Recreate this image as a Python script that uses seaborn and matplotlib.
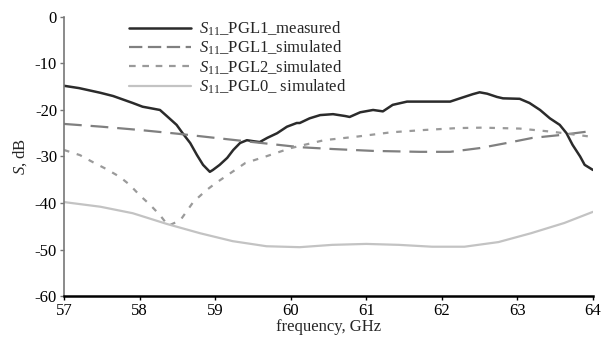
import numpy as np
import pandas as pd
import matplotlib
matplotlib.use('Agg')
import matplotlib.pyplot as plt
import seaborn as sns

# measured S11 (PGL1)
f_meas = [57.0, 57.2, 57.48, 57.65, 57.91, 58.04, 58.14, 58.27, 58.36, 58.49, 58.57, 58.67,
          58.76, 58.84, 58.93, 58.97, 59.06, 59.16, 59.24, 59.33, 59.42, 59.50, 59.59, 59.69,
          59.82, 59.95, 60.08, 60.12, 60.25, 60.39, 60.56, 60.72, 60.78, 60.92, 61.09, 61.22,
          61.35, 61.54, 61.71, 62.11, 62.24, 62.41, 62.50, 62.60, 62.73, 62.81, 63.03, 63.16,
          63.30, 63.43, 63.56, 63.65, 63.73, 63.83, 63.89, 64.0]
s_meas = [-14.8, -15.3, -16.3, -17.0, -18.5, -19.3, -19.6, -20.0, -21.3, -23.2, -25.0, -27.1,
          -29.7, -31.8, -33.3, -32.9, -31.8, -30.3, -28.6, -27.1, -26.5, -26.7, -26.9, -26.0,
          -25.0, -23.6, -22.8, -22.8, -21.8, -21.1, -20.9, -21.3, -21.5, -20.5, -20.0, -20.3,
          -18.9, -18.2, -18.2, -18.2, -17.5, -16.6, -16.2, -16.5, -17.2, -17.5, -17.6, -18.5,
          -20.0, -21.8, -23.2, -25.0, -27.5, -30.0, -31.8, -32.9]

# simulated PGL1
f_pgl1 = [57.0, 57.5, 58.0, 58.5, 59.0, 59.5, 60.12, 60.56, 61.09, 61.71, 62.11, 62.5, 62.86,
          63.2, 63.56, 64.0]
s_pgl1 = [-23.0, -23.6, -24.3, -25.1, -26.0, -26.9, -28.0, -28.4, -28.8, -29.0, -29.0, -28.2,
          -27.1, -26.0, -25.4, -24.5]

# simulated PGL2
f_pgl2 = [57.0, 57.21, 57.38, 57.56, 57.74, 57.87, 58.0, 58.14, 58.27, 58.38, 58.54, 58.71,
          58.88, 59.01, 59.21, 59.40, 59.67, 60.0, 60.44, 60.89, 61.33, 61.77, 62.2, 62.53,
          63.03, 63.47, 64.0]
s_pgl2 = [-28.6, -29.7, -31.2, -32.7, -34.4, -36.1, -38.3, -40.4, -42.6, -44.9, -43.7, -39.8,
          -37.3, -35.7, -33.5, -31.4, -30.0, -28.2, -26.5, -25.7, -24.8, -24.3, -23.9, -23.8,
          -24.0, -24.7, -25.8]

# simulated PGL0
f_pgl0 = [57.0, 57.48, 57.91, 58.36, 58.80, 59.23, 59.68, 60.12, 60.55, 61.0, 61.43, 61.87,
          62.3, 62.75, 63.18, 63.62, 64.0]
s_pgl0 = [-39.8, -40.8, -42.2, -44.5, -46.5, -48.2, -49.3, -49.5, -49.0, -48.8, -49.0, -49.4,
          -49.4, -48.4, -46.5, -44.3, -41.9]

labels = [r'$S$$_{11}$_PGL1_measured', r'$S$$_{11}$_PGL1_simulated',
          r'$S$$_{11}$_PGL2_simulated', r'$S$$_{11}$_PGL0_ simulated']

sns.set_style('ticks')
plt.rcParams['font.family'] = ['Liberation Serif', 'DejaVu Serif']
plt.rcParams['mathtext.fontset'] = 'custom'
plt.rcParams['mathtext.rm'] = 'Liberation Serif'
plt.rcParams['mathtext.it'] = 'Liberation Serif:italic'
plt.rcParams['axes.unicode_minus'] = False

fig = plt.figure(figsize=(6.02, 3.39), dpi=100)
ax = fig.add_axes([0.1063, 0.1268, 0.8787, 0.8232])

sns.lineplot(x=f_meas, y=s_meas, ax=ax, color='#2b2b2b', linewidth=1.8, label=labels[0])
sns.lineplot(x=f_pgl1, y=s_pgl1, ax=ax, color='#808080', linewidth=1.6, label=labels[1])
sns.lineplot(x=f_pgl2, y=s_pgl2, ax=ax, color='#9a9a9a', linewidth=1.6, label=labels[2])
sns.lineplot(x=f_pgl0, y=s_pgl0, ax=ax, color='#c3c3c3', linewidth=1.6, label=labels[3])
ax.lines[1].set_dashes((8, 4))
ax.lines[2].set_dashes((2.5, 3.5))

ax.set_xlim(57, 64)
ax.set_ylim(-60, 0)
ax.set_xticks(range(57, 65))
ax.set_yticks(range(-60, 1, 10))
ax.tick_params(labelsize=12, length=3, width=1, colors='black', pad=2)
ax.tick_params(axis='y', color='#777777')
for s in ['top', 'right']:
    ax.spines[s].set_visible(False)
ax.spines['left'].set_color('#777777')
ax.spines['left'].set_linewidth(1.2)
ax.spines['bottom'].set_color('black')
ax.spines['bottom'].set_linewidth(1.8)

ax.set_xlabel('frequency, GHz', fontsize=12, labelpad=0)
ax.set_ylabel(r'$S$, dB', fontsize=12, labelpad=4)

leg = ax.legend(loc='upper left', bbox_to_anchor=(0.123, 0.99), frameon=False, fontsize=12,
                handlelength=3.7, handletextpad=0.5, labelspacing=0.05, borderpad=0,
                borderaxespad=0)
leg.get_lines()[1].set_dashes((6, 2.5))
leg.get_lines()[2].set_dashes((3, 3))

fig.savefig('out.png', dpi=100)
